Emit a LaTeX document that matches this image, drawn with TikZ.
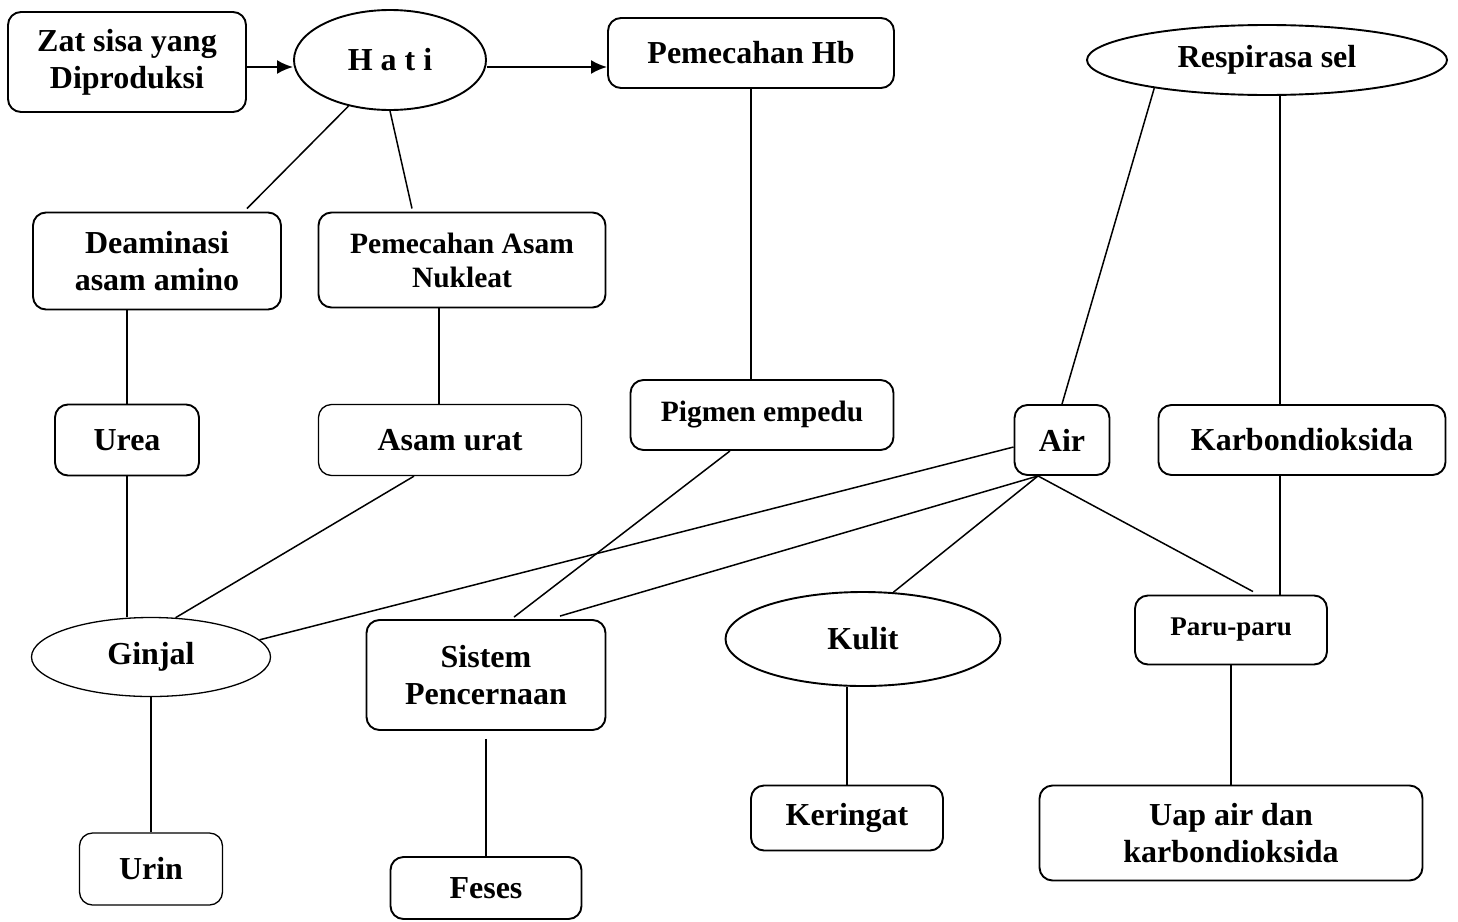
\documentclass[tikz,border=0pt]{standalone}
\usepackage{fontspec}
\setmainfont{Liberation Serif}
\usetikzlibrary{shapes,arrows.meta,calc}

\begin{document}
\begin{tikzpicture}[x=1pt,y=-1pt,
  every node/.style={align=center,inner sep=0pt,font=\bfseries\fontsize{32}{37}\selectfont},
  box/.style={draw,rounded corners=13pt,line width=1.9pt},
  oval/.style={draw,ellipse,line width=1.9pt},
  thin/.style={line width=1.3pt},
  sz/.style 2 args={minimum width=#1pt,minimum height=#2pt},
  small/.style={font=\bfseries\fontsize{29.5}{34}\selectfont},
  link/.style={line width=1.5pt},
  arr/.style={line width=2.2pt,-{Latex[length=16pt,width=14pt]}}
]
\useasboundingbox (0,0) rectangle (1458,921);

% the liver side
\node[box,sz={238}{100}] (zat) at (127,62) {Zat sisa yang\\Diproduksi};
\node[oval,sz={192}{100}] (hati) at (390,60) {H a t i};
\node[box,sz={286}{70}] (pemHb) at (751,53) {Pemecahan Hb};
\node[box,sz={248}{97}] (deam) at (157,261) {Deaminasi\\asam amino};
\node[box,small,sz={287}{95}] (pemAsam) at (462,260) {Pemecahan Asam\\Nukleat};
\node[box,sz={144}{71}] (urea) at (127,440) {Urea};
\node[box,thin,sz={263}{71}] (urat) at (450,440) {Asam urat};
\node[box,small,sz={263}{70}] (pigmen) at (762,415) {Pigmen empedu};

% the respiration side
\node[oval,sz={360}{70}] (resp) at (1267,60) {Respirasa sel};
\node[box,sz={95}{70}] (air) at (1062,440) {Air};
\node[box,sz={287}{70}] (karbon) at (1302,440) {Karbondioksida};

% the organs
\node[oval,thin,sz={239}{79}] (ginjal) at (151,657) {Ginjal};
\node[box,sz={239}{110}] (sistem) at (486,675) {Sistem\\Pencernaan};
\node[oval,sz={275}{94}] (kulit) at (863,639) {Kulit};
\node[box,font=\bfseries\fontsize{27}{32}\selectfont,sz={192}{69}] (paru) at (1231,630) {Paru-paru};

% the products
\node[box,thin,sz={143}{72}] (urin) at (151,869) {Urin};
\node[box,sz={191}{62}] (feses) at (486,888) {Feses};
\node[box,sz={192}{65}] (keringat) at (847,818) {Keringat};
\node[box,sz={383}{95}] (uap) at (1231,833) {Uap air dan\\karbondioksida};

% the arrows
\draw[arr] ([yshift=-5pt]zat.east) -- ([yshift=-7pt]hati.west);
\draw[arr] ([yshift=-7pt]hati.east) -- ([yshift=-7pt]hati.east -| pemHb.west);

% the edges
\draw[link] (hati.228) -- ([xshift=90pt,yshift=3pt]deam.north);
\draw[link] (hati.south) -- ([xshift=-50pt,yshift=3pt]pemAsam.north);
\draw[link] ([xshift=-30pt]deam.south) -- (urea.north);
\draw[link] ([xshift=-23pt]pemAsam.south) -- ([xshift=-11pt]urat.north);
\draw[link] (pemHb.south) -- ([xshift=-11pt]pigmen.north);
\draw[link] (resp.194) -- (air.north);
\draw[link] ([xshift=13pt]resp.south) -- ([xshift=-22pt]karbon.north);
\draw[link] (urea.south) -- (urea.south |- ginjal.north);
\draw[link] ([xshift=-36pt]urat.south) -- (ginjal.58);
\draw[link] ([yshift=-7pt]air.west) -- (ginjal.9);
\draw[link] ([xshift=-32pt]pigmen.south) -- ([xshift=28pt,yshift=2pt]sistem.north);
\draw[link] ([xshift=-24pt]air.south) -- ([xshift=74pt,yshift=3pt]sistem.north);
\draw[link] ([xshift=-24pt]air.south) -- (kulit.57);
\draw[link] ([xshift=-24pt]air.south) -- ([xshift=22pt,yshift=3pt]paru.north);
\draw[link] ([xshift=-22pt]karbon.south) -- ([xshift=49pt]paru.north);
\draw[link] (ginjal.south) -- (urin.north);
\draw[link] ([yshift=-8pt]sistem.south) -- (feses.north);
\draw[link] (keringat.north |- kulit.south) -- (keringat.north);
\draw[link] (paru.south) -- (uap.north);
\end{tikzpicture}
\end{document}
